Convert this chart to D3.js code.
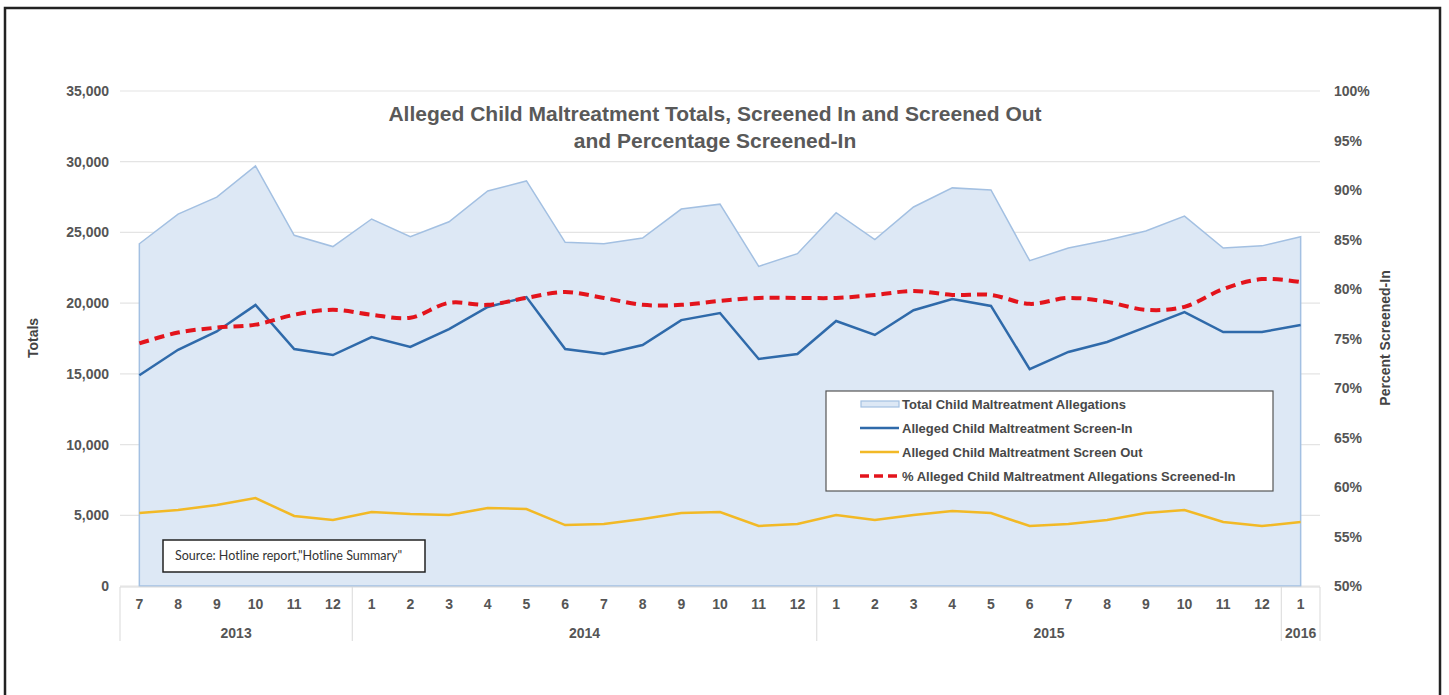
<!DOCTYPE html>
<html>
<head>
<meta charset="utf-8">
<title>Alleged Child Maltreatment Totals</title>
<script src="https://d3js.org/d3.v7.min.js"></script>
<style>
  body { margin: 0; background: #fff; }
  text { font-family: "Liberation Sans", Arial, sans-serif; }
  .tick-lbl { font-size: 14px; font-weight: bold; fill: #555; }
  .axis-title { font-size: 14px; font-weight: bold; fill: #444; }
  .title { font-size: 21px; font-weight: bold; fill: #595959; }
  .legend text { font-size: 13px; font-weight: bold; fill: #484848; }
</style>
</head>
<body>
<div id="chart"></div>
<script>
// months Jul 2013 .. Jan 2016
var months = [7,8,9,10,11,12, 1,2,3,4,5,6,7,8,9,10,11,12, 1,2,3,4,5,6,7,8,9,10,11,12, 1];
var years = [
  {label: "2013", from: 0, to: 5},
  {label: "2014", from: 6, to: 17},
  {label: "2015", from: 18, to: 29},
  {label: "2016", from: 30, to: 30}
];
var totals = [24200,26300,27500,29700,24800,24000, 25950,24700,25750,27930,28640,24300,24200,24600,26650,27000,22600,23500,
              26400,24500,26800,28150,28000,23000,23900,24450,25100,26150,23900,24050, 24700];
var screenIn = [14900,16700,18000,19870,16760,16330, 17600,16900,18170,19730,20430,16760,16400,17040,18800,19300,16050,16400,
                18740,17750,19500,20290,19800,15340,16550,17250,18310,19370,17960,17960, 18450];
var screenOut = [5160,5370,5730,6220,4950,4670, 5230,5090,5020,5520,5440,4310,4380,4740,5160,5230,4240,4380,
                 5020,4670,5020,5300,5160,4240,4380,4670,5160,5370,4530,4240, 4530];
var pctIn = [74.5,75.6,76.1,76.4,77.4,77.9, 77.4,77.1,78.6,78.4,79.1,79.7,79.1,78.4,78.4,78.8,79.1,79.1,
             79.1,79.4,79.8,79.4,79.4,78.5,79.1,78.7,77.9,78.2,80.0,81.0, 80.7];
var leftTicks = [0,5000,10000,15000,20000,25000,30000,35000];
var rightTicks = [50,55,60,65,70,75,80,85,90,95,100];
var legendItems = ["Total Child Maltreatment Allegations", "Alleged Child Maltreatment Screen-In",
                   "Alleged Child Maltreatment Screen Out", "% Alleged Child Maltreatment Allegations Screened-In"];

var W = 1449, H = 695;
var svg = d3.select("#chart").append("svg").attr("width", W).attr("height", H);

// outer frame
svg.append("rect").attr("x", 5).attr("y", 8).attr("width", 1435).attr("height", 700)
  .attr("fill", "#fff").attr("stroke", "#222").attr("stroke-width", 2.5);

var x = d3.scaleBand().domain(d3.range(months.length)).range([120, 1320]);
var cx = function(i){ return x(i) + x.bandwidth()/2; };
var y = d3.scaleLinear().domain([0, 35000]).range([586, 91]);
var y2 = d3.scaleLinear().domain([50, 100]).range([586, 91]);

// gridlines
svg.append("g").selectAll("line").data(leftTicks).enter().append("line")
  .attr("x1", 120).attr("x2", 1320)
  .attr("y1", function(d){ return y(d); }).attr("y2", function(d){ return y(d); })
  .attr("stroke", "#e4e4e4").attr("stroke-width", 1.2);

// area
var area = d3.area().x(function(d, i){ return cx(i); }).y0(y(0)).y1(function(d){ return y(d); });
svg.append("path").datum(totals).attr("d", area)
  .attr("fill", "#dde8f5").attr("stroke", "#a3c0e2").attr("stroke-width", 1.5);

// lines
var line = d3.line().x(function(d, i){ return cx(i); }).y(function(d){ return y(d); });
svg.append("path").datum(screenOut).attr("d", line)
  .attr("fill", "none").attr("stroke", "#f2b926").attr("stroke-width", 2.5);
svg.append("path").datum(screenIn).attr("d", line)
  .attr("fill", "none").attr("stroke", "#2f6aaa").attr("stroke-width", 2.5);
var line2 = d3.line().curve(d3.curveCatmullRom.alpha(0.5))
  .x(function(d, i){ return cx(i); }).y(function(d){ return y2(d); });
svg.append("path").datum(pctIn).attr("d", line2)
  .attr("fill", "none").attr("stroke", "#e3141c").attr("stroke-width", 4).attr("stroke-dasharray", "10,6");

// left axis labels
svg.append("g").selectAll("text").data(leftTicks).enter().append("text")
  .attr("class", "tick-lbl").attr("x", 109).attr("y", function(d){ return y(d) + 5; })
  .attr("text-anchor", "end").text(function(d){ return d3.format(",")(d); });
// right axis labels
svg.append("g").selectAll("text").data(rightTicks).enter().append("text")
  .attr("class", "tick-lbl").attr("x", 1334).attr("y", function(d){ return y2(d) + 5; })
  .text(function(d){ return d + "%"; });

svg.append("text").attr("class", "axis-title").attr("text-anchor", "middle")
  .attr("transform", "translate(38,338) rotate(-90)").text("Totals");
svg.append("text").attr("class", "axis-title").attr("text-anchor", "middle")
  .attr("transform", "translate(1390,338) rotate(-90)").text("Percent Screened-In");

// category axis
var xa = svg.append("g");
xa.append("line").attr("x1", 120).attr("x2", 1320).attr("y1", 587).attr("y2", 587).attr("stroke", "#d9d9d9");
var seps = [0].concat(years.map(function(g){ return g.to + 1; }));
xa.selectAll(".sep").data(seps).enter().append("line")
  .attr("x1", function(d){ return d < months.length ? x(d) : 1320; })
  .attr("x2", function(d){ return d < months.length ? x(d) : 1320; })
  .attr("y1", 587).attr("y2", 641).attr("stroke", "#d9d9d9");
xa.selectAll(".m").data(months).enter().append("text")
  .attr("class", "tick-lbl").attr("text-anchor", "middle")
  .attr("x", function(d, i){ return cx(i); }).attr("y", 609).text(function(d){ return d; });
xa.selectAll(".yr").data(years).enter().append("text")
  .attr("class", "tick-lbl").attr("text-anchor", "middle")
  .attr("x", function(g){ return (x(g.from) + x(g.to) + x.bandwidth()) / 2; })
  .attr("y", 638).text(function(g){ return g.label; });

// title
svg.append("text").attr("class", "title").attr("text-anchor", "middle").attr("x", 715).attr("y", 121)
  .text("Alleged Child Maltreatment Totals, Screened In and Screened Out");
svg.append("text").attr("class", "title").attr("text-anchor", "middle").attr("x", 715).attr("y", 148)
  .text("and Percentage Screened-In");

// legend
var lg = svg.append("g").attr("class", "legend");
lg.append("rect").attr("x", 826).attr("y", 391).attr("width", 447).attr("height", 100)
  .attr("fill", "#fff").attr("stroke", "#555").attr("stroke-width", 1.2);
legendItems.forEach(function(t, i){
  var ly = 404 + i * 24;
  if (i === 0) {
    lg.append("rect").attr("x", 861).attr("y", ly - 3).attr("width", 38).attr("height", 6)
      .attr("fill", "#dde8f5").attr("stroke", "#a3c0e2").attr("stroke-width", 1.2);
  } else {
    var col = i === 1 ? "#2f6aaa" : i === 2 ? "#f2b926" : "#e3141c";
    lg.append("line").attr("x1", 860).attr("x2", 899).attr("y1", ly).attr("y2", ly)
      .attr("stroke", col).attr("stroke-width", i === 3 ? 3.5 : 2.5)
      .attr("stroke-dasharray", i === 3 ? "9,5" : null);
  }
  lg.append("text").attr("x", 902).attr("y", ly + 5).text(t);
});

// source box
svg.append("rect").attr("x", 163).attr("y", 540).attr("width", 262).attr("height", 32)
  .attr("fill", "#fff").attr("stroke", "#222").attr("stroke-width", 1.5);
svg.append("text").attr("x", 175).attr("y", 560).style("font-family", "Lato, 'Open Sans', sans-serif")
  .style("font-size", "12.5px").attr("fill", "#333").text("Source: Hotline report,\"Hotline Summary\"");
</script>
</body>
</html>
